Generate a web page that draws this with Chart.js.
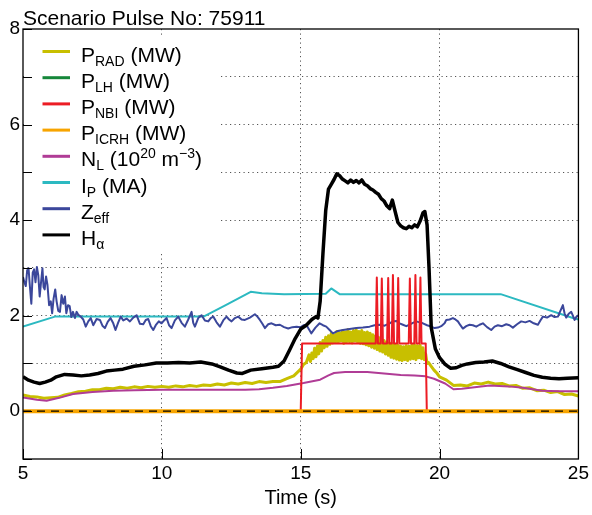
<!DOCTYPE html>
<html>
<head>
<meta charset="utf-8">
<script src="https://cdn.jsdelivr.net/npm/chart.js@4.4.0/dist/chart.umd.min.js"></script>
<style>
  html, body { margin: 0; padding: 0; background: #fff; }
  #wrap { width: 592px; height: 515px; }
</style>
</head>
<body>
<div id="wrap"><canvas id="pulseChart" width="592" height="515"></canvas></div>
<script>
// ---- data (time in s) ----
const chartTitle = "Scenario Pulse No: 75911";
const xTitle = "Time (s)";

const radT = [5.0,5.25,5.5,5.75,6.0,6.25,6.5,6.75,7.0,7.25,7.5,7.75,8.0,8.25,8.5,8.75,9.0,9.25,9.5,9.75,10.0,10.25,10.5,10.75,11.0,11.25,11.5,11.75,12.0,12.25,12.5,12.75,13.0,13.25,13.5,13.75,14.0,14.25,14.5,14.75,15.0,15.1,15.2,
    15.30,15.35,15.40,15.45,15.50,15.55,15.60,15.65,15.70,15.75,15.80,15.85,15.90,15.95,16.00,16.05,16.10,16.15,16.20,16.25,16.30,16.35,16.40,16.45,16.50,16.55,16.60,16.65,16.70,16.75,16.80,16.85,16.90,16.95,
    17.00,17.05,17.10,17.15,17.20,17.25,17.30,17.35,17.40,17.45,17.50,17.55,17.60,17.65,17.70,17.75,17.80,17.85,17.90,17.95,18.00,18.05,18.10,18.15,18.20,18.25,18.30,18.35,18.40,18.45,18.50,18.55,18.60,18.65,
    18.70,18.75,18.80,18.85,18.90,18.95,19.00,19.05,19.10,19.15,19.20,19.25,19.30,19.35,19.40,19.45,19.50,19.55,19.60,19.7,19.8,19.9,20.0,
    20.25,20.5,20.75,21.0,21.25,21.5,21.75,22.0,22.25,22.5,22.75,23.0,23.25,23.5,23.75,24.0,24.25,24.5,24.75,25.0];
const radV = [0.34,0.31,0.30,0.27,0.28,0.29,0.34,0.37,0.41,0.42,0.45,0.45,0.48,0.47,0.50,0.48,0.51,0.49,0.52,0.50,0.52,0.50,0.53,0.51,0.54,0.52,0.55,0.54,0.57,0.55,0.59,0.57,0.60,0.58,0.62,0.60,0.62,0.62,0.68,0.74,0.88,0.98,1.02,
    1.18,1.04,1.22,1.10,1.32,1.14,1.36,1.20,1.44,1.26,1.48,1.33,1.55,1.36,1.58,1.40,1.63,1.43,1.60,1.45,1.67,1.44,1.64,1.47,1.68,1.42,1.66,1.45,1.71,1.46,1.66,1.43,1.69,1.47,
    1.70,1.44,1.67,1.42,1.69,1.41,1.65,1.39,1.66,1.37,1.63,1.34,1.60,1.32,1.57,1.29,1.55,1.26,1.51,1.24,1.48,1.20,1.45,1.17,1.43,1.13,1.41,1.11,1.39,1.09,1.38,1.07,1.36,1.06,
    1.35,1.08,1.37,1.06,1.36,1.09,1.38,1.10,1.39,1.08,1.37,1.12,1.38,1.10,1.33,1.08,1.20,1.00,1.02,0.94,0.86,0.80,0.72,
    0.65,0.54,0.55,0.53,0.59,0.57,0.61,0.57,0.58,0.53,0.54,0.48,0.49,0.43,0.44,0.39,0.41,0.35,0.36,0.32];

const lhT = [5, 25];
const lhV = [0, 0];

const nbiT = [5,15.0,15.05,17.70,17.74,17.78,17.88,17.92,17.96,18.11,18.15,18.19,18.28,18.32,18.36,18.47,18.51,18.55,18.89,18.93,18.97,19.09,19.13,19.17,19.27,19.31,19.35,19.50,19.54,25];
const nbiV = [0,0,1.42,1.42,2.80,1.42,1.42,2.78,1.42,1.42,2.79,1.42,1.42,2.85,1.42,1.42,2.79,1.42,1.42,2.78,1.42,1.42,2.85,1.42,1.42,2.80,1.42,1.42,0,0];

const icrhT = [5, 25];
const icrhV = [0, 0];

const nlT = [5.0,5.5,5.85,6.3,6.8,7.5,8.25,9.0,10.0,11.0,12.0,13.0,13.5,14.0,14.5,15.1,15.7,16.0,16.2,16.6,17.4,18.0,18.6,19.1,19.5,19.8,20.2,20.5,20.8,21.8,22.5,23.0,23.7,24.3,25.0];
const nlV = [0.29,0.24,0.22,0.28,0.36,0.40,0.43,0.44,0.45,0.45,0.45,0.45,0.46,0.49,0.53,0.59,0.66,0.75,0.80,0.82,0.82,0.79,0.76,0.75,0.73,0.68,0.58,0.46,0.47,0.54,0.52,0.49,0.43,0.42,0.42];

const ipT = [5.0,6.15,11.5,12.3,13.2,13.6,14.4,15.9,16.1,16.4,22.2,24.8,25.0];
const ipV = [1.77,1.98,1.98,2.22,2.50,2.47,2.45,2.46,2.57,2.45,2.45,1.95,1.92];

const zeffT = [5.00,5.05,5.10,5.15,5.20,5.25,5.30,5.35,5.40,5.45,5.50,5.55,5.60,5.65,5.70,5.74,5.78,5.83,5.88,5.94,6.00,6.05,6.10,6.16,6.21,6.27,6.33,6.39,6.45,6.51,6.56,6.62,6.68,6.74,6.80,6.87,6.93,6.99,7.08,7.17,7.26,7.35,7.44,7.53,7.65,7.77,7.86,7.95,8.05,8.15,8.25,8.33,8.43,8.52,8.61,8.73,8.85,8.97,9.09,9.21,9.33,9.42,9.51,9.60,9.69,9.78,9.89,9.99,10.08,10.17,10.26,10.35,10.47,10.59,10.71,10.83,10.95,11.07,11.13,11.19,11.31,11.43,11.55,11.67,11.76,11.85,11.97,12.09,12.21,12.33,12.42,12.51,12.63,12.75,12.87,12.99,13.17,13.35,13.44,13.53,13.62,13.71,13.83,13.95,14.10,14.25,14.40,14.55,14.70,14.85,15.00,15.10,15.20,15.29,15.38,15.53,15.68,15.80,15.92,16.04,16.16,16.34,16.52,16.76,17.00,17.24,17.48,17.66,17.84,18.02,18.20,18.32,18.44,18.56,18.68,18.80,18.92,19.04,19.16,19.28,19.40,19.55,19.70,19.82,19.94,20.06,20.18,20.24,20.36,20.48,20.57,20.66,20.75,20.84,20.96,21.08,21.20,21.32,21.44,21.56,21.71,21.86,21.98,22.10,22.25,22.40,22.52,22.64,22.79,22.94,23.09,23.24,23.39,23.54,23.63,23.72,23.87,24.02,24.14,24.26,24.35,24.44,24.50,24.56,24.65,24.74,24.80,24.86,24.92,25.00];
const zeffV = [2.81,2.70,2.62,2.95,2.99,2.60,2.25,2.90,2.97,2.70,3.02,2.85,2.40,2.70,2.99,2.60,2.55,2.82,2.65,2.22,2.30,2.05,2.35,2.55,2.30,2.10,2.08,2.43,2.25,2.40,2.05,2.22,2.20,1.97,2.08,1.95,2.08,2.02,1.98,1.92,1.77,1.88,1.95,1.80,1.93,1.91,1.79,1.74,1.87,1.95,1.84,1.70,1.86,1.98,1.90,1.94,1.88,1.96,2.01,1.83,1.82,1.91,1.93,1.78,1.70,1.80,1.88,1.84,1.90,1.95,1.80,1.74,1.90,1.98,1.85,1.77,1.92,2.08,1.85,1.77,1.95,2.01,1.90,1.88,1.95,1.98,1.86,1.77,1.90,1.98,1.92,1.88,1.95,1.98,1.92,1.91,1.96,2.03,1.98,1.91,1.83,1.74,1.82,1.84,1.80,1.81,1.76,1.73,1.76,1.77,1.76,1.80,1.81,1.72,1.63,1.75,1.84,1.80,1.77,1.70,1.63,1.68,1.70,1.72,1.74,1.75,1.77,1.80,1.81,1.79,1.84,1.88,1.89,1.84,1.81,1.78,1.81,1.85,1.88,1.86,1.84,1.80,1.77,1.74,1.75,1.78,1.84,1.91,1.92,1.95,1.92,1.88,1.80,1.73,1.78,1.81,1.80,1.77,1.81,1.84,1.76,1.70,1.77,1.80,1.78,1.82,1.80,1.75,1.82,1.88,1.86,1.89,1.84,1.81,1.90,1.98,1.96,2.01,1.97,1.98,2.10,2.22,2.05,1.96,2.04,2.08,2.00,1.91,1.97,2.01];

const haT = [5.0,5.2,5.4,5.6,5.8,6.0,6.2,6.5,6.8,7.1,7.4,7.7,8.0,8.3,8.6,9.0,9.4,9.8,10.2,10.6,11.0,11.4,11.8,12.1,12.4,12.7,12.9,13.2,13.6,14.0,14.2,14.4,14.6,14.8,15.0,15.2,15.4,15.55,15.62,15.7,15.8,15.9,16.0,16.1,16.2,16.3,16.4,16.5,16.6,16.7,16.8,16.9,17.0,17.1,17.2,17.3,17.4,17.5,17.6,17.7,17.8,17.9,18.0,18.1,18.2,18.3,18.4,18.5,18.6,18.7,18.8,18.9,19.0,19.1,19.2,19.3,19.4,19.47,19.55,19.62,19.7,19.85,20.0,20.2,20.4,20.6,20.8,21.0,21.3,21.6,21.9,22.2,22.5,22.8,23.1,23.4,23.7,24.0,24.3,24.6,25.0];
const haV = [0.72,0.65,0.61,0.58,0.61,0.65,0.72,0.77,0.76,0.74,0.76,0.79,0.84,0.86,0.88,0.94,0.97,1.01,1.01,1.02,1.01,1.03,0.99,0.93,0.86,0.80,0.79,0.86,0.89,0.92,0.94,1.05,1.28,1.52,1.72,1.80,1.92,1.98,1.95,2.30,3.30,4.20,4.65,4.75,4.85,4.97,4.93,4.86,4.82,4.78,4.84,4.79,4.83,4.78,4.84,4.75,4.72,4.66,4.63,4.58,4.54,4.45,4.40,4.30,4.24,4.42,4.18,3.95,3.88,3.84,3.82,3.87,3.84,3.90,3.86,3.98,4.15,4.18,3.90,3.00,1.75,1.30,1.12,0.98,0.90,0.91,0.96,0.99,1.02,1.03,1.05,1.00,0.93,0.87,0.81,0.75,0.71,0.69,0.68,0.69,0.70];

const zeroT = [5, 25];
const zeroV = [0, 0];

// ---- colours ----
const colRad = '#c8bf00';
const colLh = '#16873a';
const colNbi = '#ec1c24';
const colIcrh = '#f7a400';
const colNl = '#b03c96';
const colIp = '#2cb9c1';
const colZeff = '#3b479b';
const colHa = '#000000';

function pts(t, v) {
    return t.map((x, i) => ({ x: x, y: v[i] }));
}

function line(label, t, v, color, width, order) {
    return {
        label: label,
        data: pts(t, v),
        borderColor: color,
        borderWidth: width,
        borderJoinStyle: 'round',
        pointRadius: 0,
        fill: false,
        tension: 0,
        order: order
    };
}

const datasets = [
    line('PRAD', radT, radV, colRad, 3, 10),
    line('PLH', lhT, lhV, colLh, 2, 9),
    line('IP', ipT, ipV, colIp, 2, 8),
    line('NL', nlT, nlV, colNl, 2, 7),
    line('Zeff', zeffT, zeffV, colZeff, 2, 6),
    line('PNBI', nbiT, nbiV, colNbi, 2, 5),
    line('PICRH', icrhT, icrhV, colIcrh, 4, 4),
    line('Ha', haT, haV, colHa, 3.5, 3),
    Object.assign(line('zero', zeroT, zeroV, '#000', 1.3, 2), { borderDash: [8, 6] })
];

// legend entries with sub / superscripts
const legendItems = [
    { color: colRad, parts: [['P', 'n'], ['RAD', 'sub'], [' (MW)', 'n']] },
    { color: colLh, parts: [['P', 'n'], ['LH', 'sub'], [' (MW)', 'n']] },
    { color: colNbi, parts: [['P', 'n'], ['NBI', 'sub'], [' (MW)', 'n']] },
    { color: colIcrh, parts: [['P', 'n'], ['ICRH', 'sub'], [' (MW)', 'n']] },
    { color: colNl, parts: [['N', 'n'], ['L', 'sub'], [' (10', 'n'], ['20', 'sup'], [' m', 'n'], ['\u22123', 'sup'], [')', 'n']] },
    { color: colIp, parts: [['I', 'n'], ['P', 'sub'], [' (MA)', 'n']] },
    { color: colZeff, parts: [['Z', 'n'], ['eff', 'sub']] },
    { color: colHa, parts: [['H', 'n'], ['\u03b1', 'sub']] }
];

const FONT = '"Liberation Sans", Arial, Helvetica, sans-serif';

// -------------------------
// LEYENDA, MARCO Y TEXTOS
// -------------------------
const decorations = {
    id: 'decorations',
    afterDatasetsDraw(chart) {
        const c = chart.ctx;
        c.save();
        c.fillStyle = '#fff';
        c.fillRect(24, 37, 195, 215);
        legendItems.forEach((item, i) => {
            const base = 61.5 + i * 26.2;
            c.strokeStyle = item.color;
            c.lineWidth = 3;
            c.beginPath();
            c.moveTo(42.5, base - 10);
            c.lineTo(70, base - 10);
            c.stroke();
            let x = 81;
            c.fillStyle = '#000';
            c.textBaseline = 'alphabetic';
            c.textAlign = 'left';
            item.parts.forEach(([txt, kind]) => {
                let y = base;
                if (kind === 'n') c.font = '21px ' + FONT;
                else c.font = '14px ' + FONT;
                if (kind === 'sub') y = base + 4;
                if (kind === 'sup') y = base - 8;
                c.fillText(txt, x, y);
                x += c.measureText(txt).width;
            });
        });
        c.restore();
    },
    afterDraw(chart) {
        const c = chart.ctx;
        const a = chart.chartArea;
        const xs = chart.scales.x;
        const ys = chart.scales.y;
        c.save();
        // inward ticks
        c.strokeStyle = '#000';
        c.lineWidth = 1;
        c.beginPath();
        xs.ticks.forEach(t => {
            const px = Math.round(xs.getPixelForValue(t.value)) + 0.5;
            c.moveTo(px, a.bottom);
            c.lineTo(px, a.bottom - 10);
        });
        ys.ticks.forEach(t => {
            const py = Math.round(ys.getPixelForValue(t.value)) + 0.5;
            c.moveTo(a.left, py);
            c.lineTo(a.left + 9, py);
        });
        c.stroke();
        // frame
        c.lineWidth = 1.3;
        c.strokeRect(a.left, a.top, a.right - a.left, a.bottom - a.top);
        // title and axis title
        c.fillStyle = '#000';
        c.textBaseline = 'alphabetic';
        c.textAlign = 'left';
        c.font = '21px ' + FONT;
        c.fillText(chartTitle, 23, 25);
        c.textAlign = 'center';
        c.font = '20px ' + FONT;
        c.fillText(xTitle, (a.left + a.right) / 2, 504);
        c.restore();
    }
};

const gridDots = [1.2, 3.3];

new Chart(document.getElementById('pulseChart').getContext('2d'), {
    type: 'line',
    data: { datasets: datasets },
    options: {
        responsive: false,
        animation: false,
        devicePixelRatio: 1,
        layout: { padding: { left: 0, top: 29, right: 13, bottom: 0 } },
        plugins: {
            legend: { display: false },
            tooltip: { enabled: false },
            title: { display: false }
        },
        scales: {
            x: {
                type: 'linear',
                min: 5,
                max: 25,
                afterFit(scale) { scale.height = 56; },
                ticks: {
                    stepSize: 5,
                    color: '#000',
                    padding: 3,
                    font: { family: FONT, size: 19 },
                    maxRotation: 0
                },
                grid: {
                    drawTicks: false,
                    lineWidth: 1,
                    color: ctx => (ctx.tick && ctx.tick.value > 5 && ctx.tick.value < 25) ? '#555' : 'rgba(0,0,0,0)'
                },
                border: { display: false, dash: gridDots }
            },
            y: {
                min: -1,
                max: 8,
                afterFit(scale) { scale.width = 23; },
                ticks: {
                    stepSize: 1,
                    autoSkip: false,
                    color: '#000',
                    padding: 3,
                    font: { family: FONT, size: 19 },
                    callback: v => (v >= 0 && v % 2 === 0) ? String(v) : ''
                },
                grid: {
                    drawTicks: false,
                    lineWidth: 1,
                    color: ctx => (ctx.tick && ctx.tick.value > 0 && ctx.tick.value < 8) ? '#555' : 'rgba(0,0,0,0)'
                },
                border: { display: false, dash: gridDots }
            }
        }
    },
    plugins: [decorations]
});
</script>
</body>
</html>
